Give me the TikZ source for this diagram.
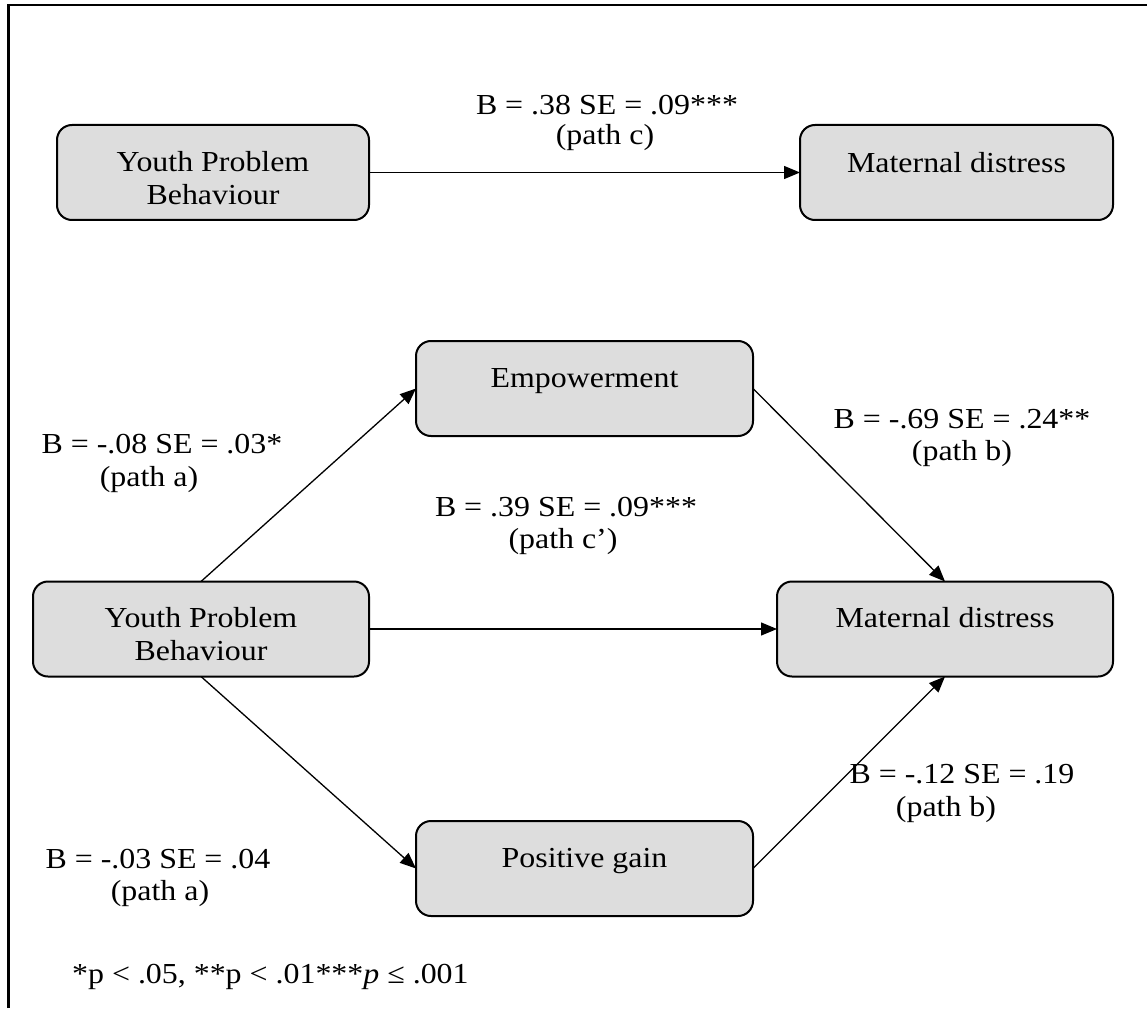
\documentclass[tikz,border=0pt]{standalone}
\usepackage{fontspec}
\setmainfont{Liberation Serif}[FakeStretch=1.1]
\usetikzlibrary{arrows.meta}
\definecolor{boxgray}{RGB}{221,221,221}
\begin{document}
\begin{tikzpicture}[x=1pt,y=-1pt,
  box/.style={draw=black,line width=2pt,fill=boxgray,rounded corners=15pt,
    inner sep=0pt,outer sep=0pt,minimum height=95pt},
  txt/.style={inner sep=0pt,anchor=base,font=\fontsize{29}{33}\selectfont},
  lbl/.style={inner sep=0pt,anchor=base,font=\fontsize{29}{33}\selectfont},
  arr/.style={line width=1.3pt,-{Triangle[length=16pt,width=13pt]}}]
\useasboundingbox (0,0) rectangle (1147,1008);
% frame
\draw[line width=2.6pt] (8.7,1008) -- (8.7,5) -- (1147,5);
% top model
\node[box,minimum width=312pt] (ypbA) at (213,172.5) {};
\node[box,minimum width=313pt] (mdA) at (956.5,172.5) {};
\node[txt] (ypbAt1) at (213,172) {Youth Problem};
\node[txt] (ypbAt2) at (213,205) {Behaviour};
\node[txt] (mdAt) at (956.5,173) {Maternal distress};
\draw[arr] (ypbA.east) -- (mdA.west);
\node[lbl] (cA1) at (607,115) {B = .38 SE = .09***};
\node[lbl] (cA2) at (605,145) {(path c)};
% mediation model
\node[box,minimum width=337pt] (emp) at (584.5,388.5) {};
\node[box,minimum width=336pt] (ypbB) at (201,629) {};
\node[box,minimum width=336pt] (mdB) at (945,629) {};
\node[box,minimum width=337pt] (pg) at (584.5,868.5) {};
\node[txt] (empt) at (584.5,387) {Empowerment};
\node[txt] (ypbBt1) at (201,627) {Youth Problem};
\node[txt] (ypbBt2) at (201,660) {Behaviour};
\node[txt] (mdBt) at (945,627) {Maternal distress};
\node[txt] (pgt) at (584.5,867) {Positive gain};
\draw[arr] (ypbB.north) -- (emp.west);
\draw[arr] (emp.east) -- (mdB.north);
\draw[arr] (ypbB.east) -- (mdB.west);
\draw[arr] (ypbB.south) -- (pg.west);
\draw[arr] (pg.east) -- (mdB.south);
% labels
\node[lbl] (a1a) at (162,453) {B = -.08 SE = .03*};
\node[lbl] (a1b) at (149,486) {(path a)};
\node[lbl] (cB1) at (566,516) {B = .39 SE = .09***};
\node[lbl] (cB2) at (563,548) {(path c’)};
\node[lbl] (b1a) at (962,428) {B = -.69 SE = .24**};
\node[lbl] (b1b) at (962,460) {(path b)};
\node[lbl] (b2a) at (962,783) {B = -.12 SE = .19};
\node[lbl] (b2b) at (946,816) {(path b)};
\node[lbl] (a2a) at (158,868) {B = -.03 SE = .04};
\node[lbl] (a2b) at (160,900) {(path a)};
\node[lbl,anchor=base west] (note) at (72,983) {*p < .05, **p < .01***\textit{p} ≤ .001};
\end{tikzpicture}
\end{document}
